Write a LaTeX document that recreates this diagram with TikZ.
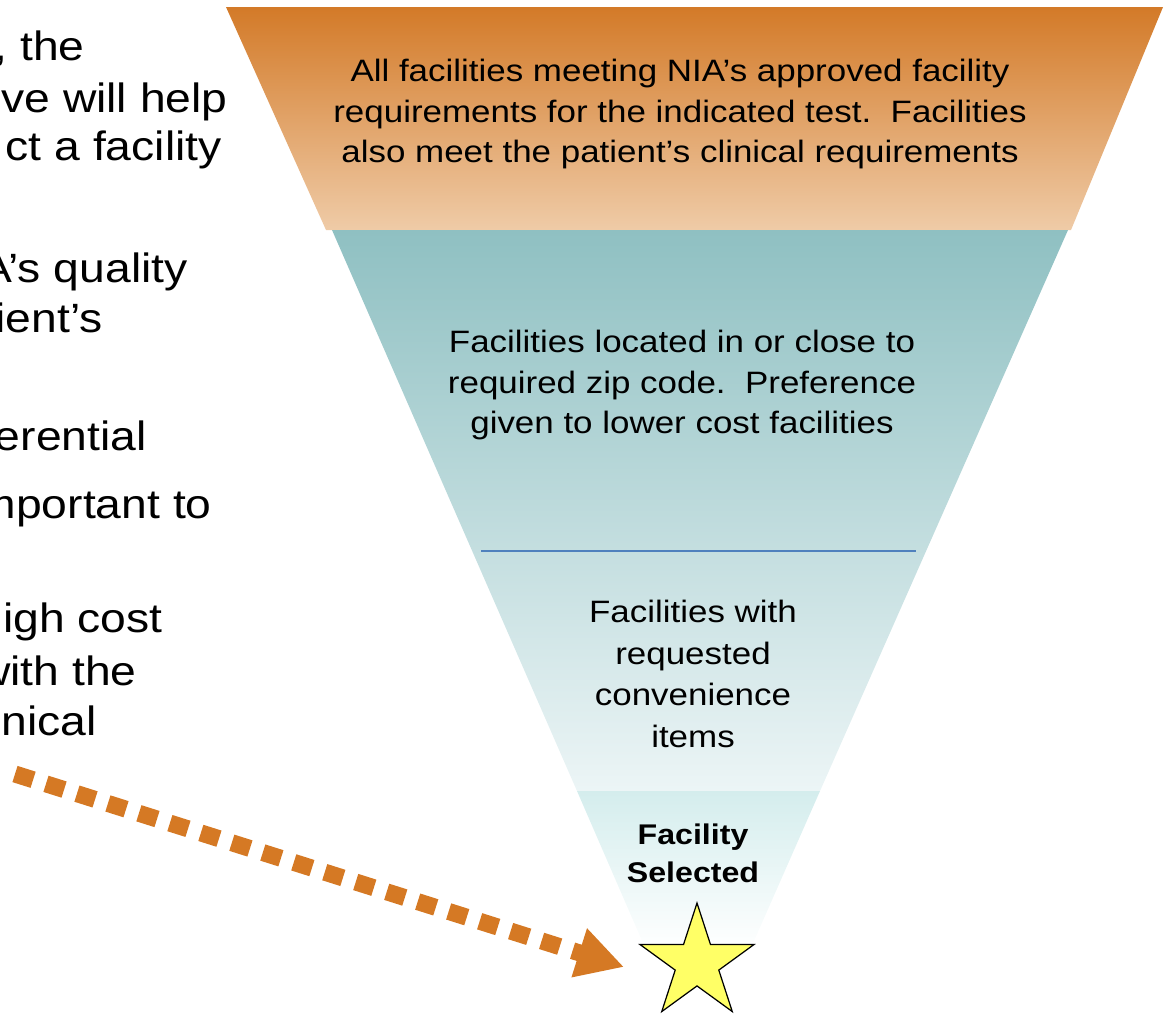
\documentclass[tikz,border=0pt]{standalone}
\usepackage{fontspec}
\setmainfont{Liberation Sans}[FakeStretch=1.13]
\usetikzlibrary{arrows.meta,shapes.geometric}

\definecolor{orangetop}{RGB}{211,122,40}
\definecolor{orangebot}{RGB}{239,203,167}
\definecolor{tealtop}{RGB}{143,192,194}
\definecolor{tealbot}{RGB}{236,245,246}
\definecolor{lowtop}{RGB}{212,237,237}
\definecolor{rulecol}{RGB}{79,129,189}
\definecolor{arroworange}{RGB}{213,121,36}
\definecolor{staryellow}{RGB}{255,255,102}

\begin{document}
\begin{tikzpicture}[x=0.02cm, y=-0.02cm,
    funneltext/.style={align=center, inner sep=0pt, font=\fontsize{17.6}{23}\selectfont},
    sidetext/.style={anchor=base east, inner sep=0pt, font=\fontsize{23.3}{28}\selectfont},
    dasharrow/.style={draw=arroworange, line width=0.34cm, dash pattern=on 0.38cm off 0.27cm,
      -{Triangle[length=0.94cm, width=0.96cm]}}]
      \useasboundingbox (0,0) rectangle (1165,1015);
      \clip (0,0) rectangle (1165,1015);
      \shade[top color=orangetop, bottom color=orangebot] (226,7) -- (1163,7) -- (1071,230) -- (326,230) -- cycle;
      \shade[top color=tealtop, bottom color=tealbot] (332,230) -- (1068,230) -- (820,791) -- (577,791) -- cycle;
      \shade[top color=lowtop, bottom color=white] (577,791) -- (820,791) -- (750,950) -- (646,950) -- cycle;
      \draw[rulecol, line width=0.03cm] (481,551) -- (916,551);
      \node[funneltext] (toptext) at (680,114) {All facilities meeting NIA’s approved facility\\requirements for the indicated test.\ \ Facilities\\also meet the patient’s clinical requirements};
      \node[funneltext] (midtext) at (682,385) {Facilities located in or close to\\required zip code.\ \ Preference\\given to lower cost facilities};
      \node[funneltext, font=\fontsize{17.6}{23.7}\selectfont] (convtext) at (693,674) {Facilities with\\requested\\convenience\\items};
      \node[funneltext, font=\fontsize{16.2}{21.6}\selectfont\bfseries] (seltext) at (693,853) {Facility\\Selected};
      \node[star, star points=5, star point ratio=2.618, minimum size=2.4cm, inner sep=0pt,
        fill=staryellow, draw=black, line width=0.7pt] (sel) at (697,963) {};
      \foreach \ex/\by/\txt [count=\i] in {85/60/{, the}, 228/112/ve will help, 222/160/ct a facility,
          188/282/A’s quality, 103/332/ient’s, 147/450/erential, 212/518/mportant to,
          163/632/igh cost, 137/685/with the, 97/735/nical}
        \node[sidetext] (side\i) at (\ex,\by) {\txt};
      \coordinate (dashstart) at (15,774);
      \coordinate (tip) at ([shift={(-73,4)}]sel.center);
      \draw[dasharrow] (dashstart) -- (tip);
\end{tikzpicture}
\end{document}
